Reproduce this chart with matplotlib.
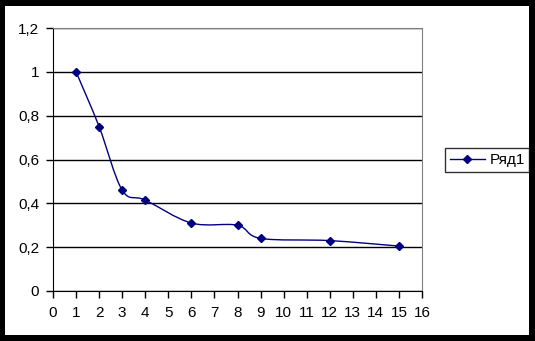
import matplotlib
matplotlib.use("Agg")
import matplotlib.pyplot as plt
from matplotlib.path import Path
from matplotlib.patches import PathPatch, Rectangle
from matplotlib.lines import Line2D
import numpy as np

x_vals = [1, 2, 3, 4, 6, 8, 9, 12, 15]
y_vals = [1.0, 0.75, 0.46, 0.415, 0.31, 0.30, 0.24, 0.23, 0.205]
series_name = "Ряд1"
x_ticks = list(range(0, 17))
y_ticks = [0, 0.2, 0.4, 0.6, 0.8, 1, 1.2]
y_tick_labels = ["0", "0,2", "0,4", "0,6", "0,8", "1", "1,2"]

line_color = "#000080"
plt.rcParams["font.family"] = ["Liberation Sans", "DejaVu Sans"]


def smooth_path(xs, ys):
    # excel-style smoothed line: bezier segments with catmull-rom control points
    pts = np.column_stack([xs, ys]).astype(float)
    n = len(pts)
    verts = [pts[0]]
    codes = [Path.MOVETO]
    for i in range(n - 1):
        p0 = pts[i - 1] if i > 0 else pts[i]
        p1 = pts[i]
        p2 = pts[i + 1]
        p3 = pts[i + 2] if i + 2 < n else pts[i + 1]
        c1 = p1 + (p2 - p0) / 6.0
        c2 = p2 - (p3 - p1) / 6.0
        verts += [c1, c2, p2]
        codes += [Path.CURVE4] * 3
    return Path(verts, codes)


fig = plt.figure(figsize=(5.35, 3.41), dpi=100)
fig.patch.set_facecolor("black")
fig.patches.append(Rectangle((5 / 535, 1 - 335 / 341), 524 / 535, 329 / 341,
                             transform=fig.transFigure, facecolor="white",
                             edgecolor="none", zorder=-10))

ax = fig.add_axes([53 / 535, 1 - 291 / 341, 369 / 535, 263 / 341])
ax.set_facecolor("white")

ax.add_patch(PathPatch(smooth_path(x_vals, y_vals), facecolor="none",
                       edgecolor=line_color, lw=1.0, zorder=3))
ax.plot(x_vals, y_vals, ls="none", marker="D", ms=4.5, color=line_color, zorder=4)

ax.set_xlim(0, 16)
ax.set_ylim(0, 1.2)
ax.set_xticks(x_ticks)
ax.set_yticks(y_ticks)
ax.set_yticklabels(y_tick_labels)
ax.tick_params(axis="both", direction="out", length=5, width=1, color="black",
               labelsize=11, labelcolor="black")
ax.tick_params(axis="x", pad=6)
ax.tick_params(axis="y", pad=5)
ax.grid(axis="y", color="black", lw=1)
ax.set_axisbelow(True)
for side in ["left", "bottom"]:
    ax.spines[side].set_color("black")
for side in ["top", "right"]:
    ax.spines[side].set_color("#808080")

handle = Line2D([], [], color=line_color, lw=1.0, marker="D", ms=4.5)
leg = fig.legend([handle], [series_name], loc="center left",
                 bbox_to_anchor=(445 / 535, 1 - 160 / 341), frameon=True,
                 fancybox=False, edgecolor="black", fontsize=11,
                 borderpad=0.3, handlelength=2.3, handletextpad=0.3,
                 borderaxespad=0)
leg.get_frame().set_linewidth(1.0)

fig.savefig("out.png", dpi=100, facecolor=fig.get_facecolor())
